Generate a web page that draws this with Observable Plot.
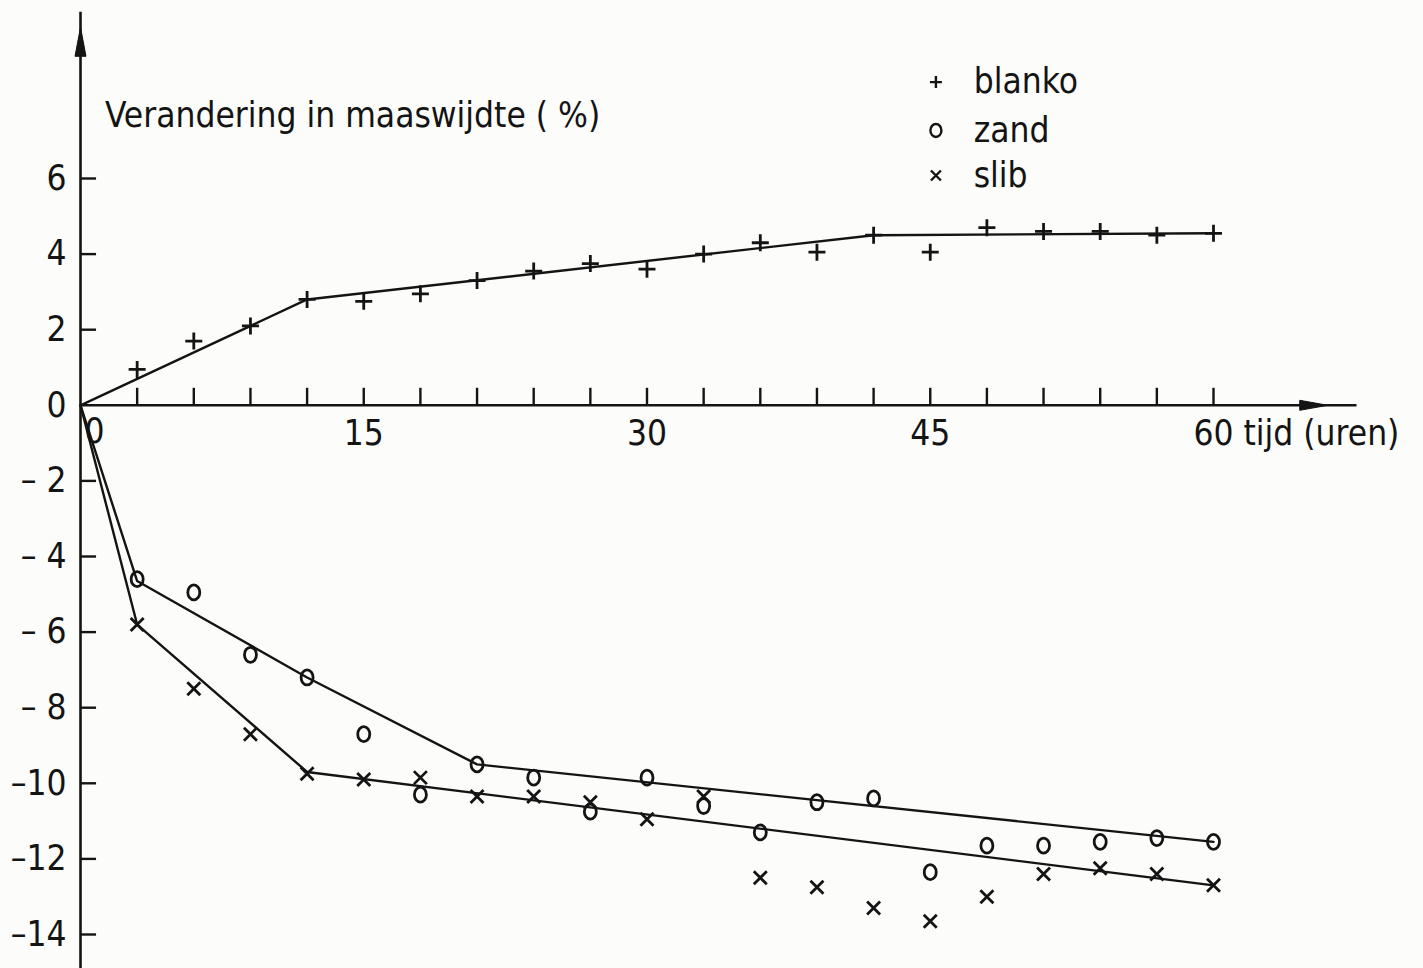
<!DOCTYPE html>
<html><head><meta charset="utf-8">
<script src="https://cdn.jsdelivr.net/npm/d3@7"></script>
<script src="https://cdn.jsdelivr.net/npm/@observablehq/plot@0.6"></script>
<style>
html,body{margin:0;padding:0;background:#fcfcfb;}
#chart svg{display:block;}
</style></head><body><div id="chart"></div>
<script>
// --- data ---
const hours  = [3,6,9,12,15,18,21,24,27,30,33,36,39,42,45,48,51,54,57,60];
const blanko = [0.95,1.7,2.1,2.8,2.75,2.95,3.3,3.55,3.75,3.6,4.0,4.3,4.05,4.5,4.05,4.7,4.6,4.6,4.5,4.55];
const zand   = [-4.6,-4.95,-6.6,-7.2,-8.7,-10.3,-9.5,-9.85,-10.75,-9.85,-10.6,-11.3,-10.5,-10.4,-12.35,-11.65,-11.65,-11.55,-11.45,-11.55];
const slib   = [-5.8,-7.5,-8.7,-9.75,-9.9,-9.85,-10.35,-10.35,-10.5,-10.95,-10.35,-12.5,-12.75,-13.3,-13.65,-13.0,-12.4,-12.25,-12.4,-12.7];

const blankoFitX = [0,12,42,60];
const blankoFitY = [0,2.8,4.5,4.55];
const zandFitX   = [0,3,12,21,60];
const zandFitY   = [0,-4.65,-7.2,-9.5,-11.55];
const slibFitX   = [0,3,12,60];
const slibFitY   = [0,-5.8,-9.7,-12.7];

const xTickValues = [3,6,9,12,15,18,21,24,27,30,33,36,39,42,45,48,51,54,57,60];
const xTickLabels = [15,30,45,60];
const xOriginLabel = [0];
const yTickValues = [6,4,2,-2,-4,-6,-8,-10,-12,-14];
const yTickLabels = [6,4,2,0,-2,-4,-6,-8,-10,-12,-14];
const legendLabels = ["blanko","zand","slib"];
const yTitle = "Verandering in maaswijdte ( %)";
const xTitle = "tijd (uren)";

// --- helpers ---
const toPts = (xs, ys) => xs.map((x,i)=>({x, y: ys[i]}));
const seriesPts = ys => hours.map((h,i)=>({x:h, y:ys[i]}));

const plusSym = a => ({draw(c){c.moveTo(-a,0);c.lineTo(a,0);c.moveTo(0,-a);c.lineTo(0,a);}});
const timesSym = a => ({draw(c){c.moveTo(-a,-a);c.lineTo(a,a);c.moveTo(-a,a);c.lineTo(a,-a);}});
const ovalSym = (rx, ry) => ({draw(c){const k=0.5523;
  c.moveTo(0,-ry);
  c.bezierCurveTo(k*rx,-ry, rx,-k*ry, rx,0);
  c.bezierCurveTo(rx,k*ry, k*rx,ry, 0,ry);
  c.bezierCurveTo(-k*rx,ry, -rx,k*ry, -rx,0);
  c.bezierCurveTo(-rx,-k*ry, -k*rx,-ry, 0,-ry);
  c.closePath();}});
const arrowUp = {draw(c){c.moveTo(0,0);c.lineTo(-5.5,29);c.lineTo(5.5,29);c.closePath();}};
const arrowRight = {draw(c){c.moveTo(0,0);c.lineTo(-28,-5);c.lineTo(-28,5);c.closePath();}};

const fmtY = d => d < 0 ? (Math.abs(d) < 10 ? "– " + Math.abs(d) : "–" + Math.abs(d)) : String(d);

const ink = "#141414";
const font = "'DejaVu Sans Condensed','Liberation Sans Narrow','DejaVu Sans',sans-serif";
const fs = 35;
const legendY = [8.55, 7.27, 6.08];

const chart = Plot.plot({
  width: 1423, height: 968,
  marginLeft: 0, marginRight: 0, marginTop: 0, marginBottom: 0,
  style: {fontFamily: font, background: "transparent", color: ink},
  x: {domain: [0, 60], range: [80, 1213], axis: null},
  y: {domain: [-14, 6], range: [934, 178], axis: null},
  marks: [
    // axes
    Plot.ruleY([0], {x1: 0, x2: 67.6, stroke: ink, strokeWidth: 2.6}),
    Plot.ruleX([0], {y1: -15, y2: 10.4, stroke: ink, strokeWidth: 2.6}),
    Plot.dot([{x:0, y:10.0}], {x:"x", y:"y", symbol: arrowUp, fill: ink, stroke: ink, strokeWidth: 1}),
    Plot.dot([{x:66.05, y:0}], {x:"x", y:"y", symbol: arrowRight, fill: ink, stroke: ink, strokeWidth: 1}),
    Plot.ruleX(xTickValues, {y1: 0, y2: 0.45, stroke: ink, strokeWidth: 2.4}),
    Plot.ruleY(yTickValues, {x1: 0, x2: 0.85, stroke: ink, strokeWidth: 2.4}),
    // tick labels
    Plot.text(yTickLabels, {x: 0, y: d => d, text: fmtY, textAnchor: "end", dx: -14, fontSize: fs, fill: ink}),
    Plot.text(xTickLabels, {x: d => d, y: 0, text: d => String(d), dy: 28, fontSize: fs, fill: ink}),
    Plot.text(xOriginLabel, {x: d => d, y: 0, text: d => String(d), dx: 14, dy: 26, fontSize: fs, fill: ink}),
    Plot.text([xTitle], {x: 60, y: 0, text: d => d, textAnchor: "start", dx: 30, dy: 28, fontSize: fs, fill: ink}),
    Plot.text([yTitle], {x: 1.3, y: 7.65, text: d => d, textAnchor: "start", fontSize: fs, fill: ink}),
    // fitted lines
    Plot.line(toPts(blankoFitX, blankoFitY), {x:"x", y:"y", stroke: ink, strokeWidth: 2.4}),
    Plot.line(toPts(zandFitX, zandFitY), {x:"x", y:"y", stroke: ink, strokeWidth: 2.4}),
    Plot.line(toPts(slibFitX, slibFitY), {x:"x", y:"y", stroke: ink, strokeWidth: 2.4}),
    // data points
    Plot.dot(seriesPts(blanko), {x:"x", y:"y", symbol: plusSym(8.5), stroke: ink, strokeWidth: 2.8}),
    Plot.dot(seriesPts(zand), {x:"x", y:"y", symbol: ovalSym(6, 7.5), stroke: ink, strokeWidth: 2.8, fill: "none"}),
    Plot.dot(seriesPts(slib), {x:"x", y:"y", symbol: timesSym(6.5), stroke: ink, strokeWidth: 2.8}),
    // legend
    Plot.dot([legendLabels[0]], {x: () => 45.3, y: () => legendY[0], symbol: plusSym(6), stroke: ink, strokeWidth: 2.4}),
    Plot.dot([legendLabels[1]], {x: () => 45.3, y: () => legendY[1], symbol: ovalSym(5.5, 6.5), stroke: ink, strokeWidth: 2.4, fill: "none"}),
    Plot.dot([legendLabels[2]], {x: () => 45.3, y: () => legendY[2], symbol: timesSym(5), stroke: ink, strokeWidth: 2.4}),
    Plot.text(legendLabels, {x: () => 47.3, y: (d,i) => legendY[i], text: d => d, textAnchor: "start", fontSize: fs, fill: ink})
  ]
});
document.getElementById("chart").appendChild(chart);
</script></body></html>
